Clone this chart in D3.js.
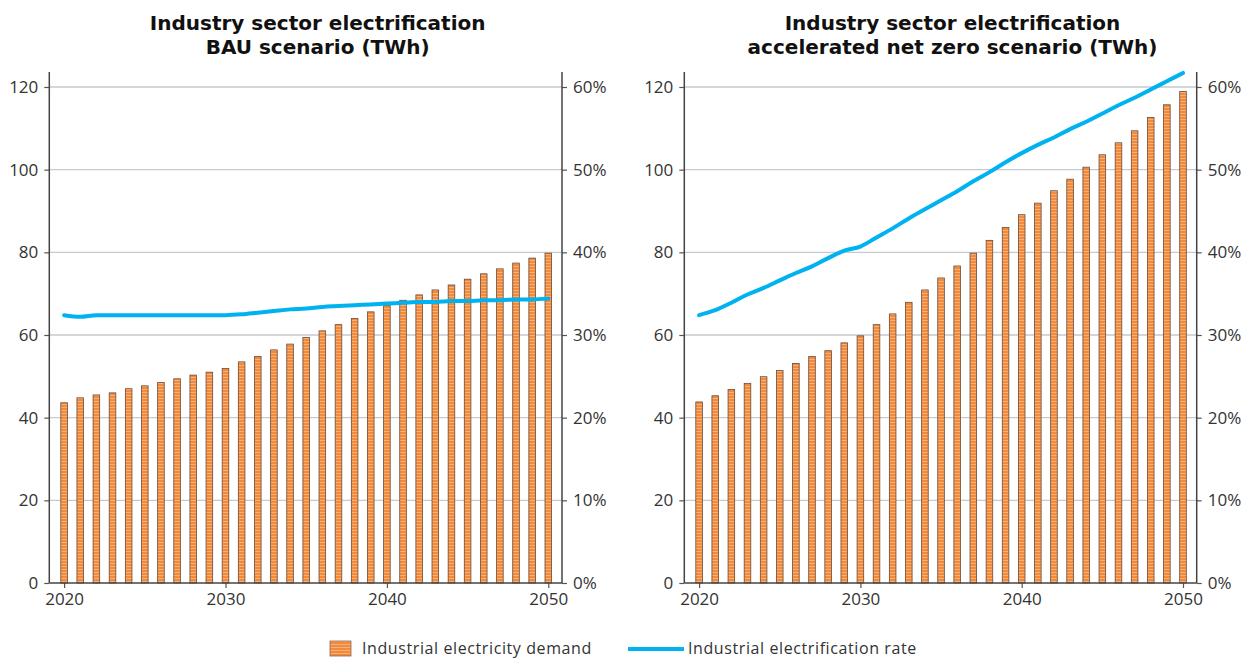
<!DOCTYPE html>
<html>
<head>
<meta charset="utf-8">
<script src="https://cdn.jsdelivr.net/npm/d3@7"></script>
<style>
  body { margin: 0; background: #fff; }
  text { font-family: "Open Sans", sans-serif; fill: #333; }
</style>
</head>
<body>
<div class="graphContainer"></div>
<script>
// width / height of the page
const w = 1244;
const h = 660;

// data
const years = d3.range(2020, 2051);

const bauDemand = [43.6, 44.8, 45.5, 46.0, 47.0, 47.7, 48.5, 49.4, 50.3, 51.0,
                   51.9, 53.5, 54.8, 56.4, 57.8, 59.4, 61.0, 62.5, 64.0, 65.6,
                   67.1, 68.4, 69.7, 70.9, 72.1, 73.5, 74.8, 76.0, 77.4, 78.6, 79.8];

const bauRate = [32.4, 32.2, 32.4, 32.4, 32.4, 32.4, 32.4, 32.4, 32.4, 32.4,
                 32.4, 32.5, 32.7, 32.9, 33.1, 33.2, 33.4, 33.5, 33.6, 33.7,
                 33.8, 33.9, 34.0, 34.0, 34.1, 34.1, 34.2, 34.2, 34.3, 34.3, 34.4];

const nzDemand = [43.8, 45.3, 46.8, 48.3, 49.9, 51.4, 53.1, 54.8, 56.2, 58.1,
                  59.8, 62.5, 65.1, 67.9, 70.9, 73.8, 76.7, 79.8, 82.9, 86.0,
                  89.1, 91.9, 94.9, 97.7, 100.6, 103.6, 106.5, 109.4, 112.6, 115.7, 118.9];

const nzRate = [32.4, 33.0, 33.9, 34.9, 35.7, 36.6, 37.5, 38.3, 39.3, 40.2,
                40.7, 41.8, 42.9, 44.1, 45.2, 46.3, 47.4, 48.6, 49.7, 50.9,
                52.0, 53.0, 53.9, 54.9, 55.8, 56.8, 57.8, 58.7, 59.7, 60.7, 61.7];

const leftTicks = [0, 20, 40, 60, 80, 100, 120];
const rightTicks = [0, 10, 20, 30, 40, 50, 60];
const yearTicks = [2020, 2030, 2040, 2050];

const titles = [["Industry sector electrification", "BAU scenario (TWh)"],
                ["Industry sector electrification", "accelerated net zero scenario (TWh)"]];

const legendLabels = ["Industrial electricity demand", "Industrial electrification rate"];

const barColor = "#f28a3a";
const lineColor = "#00b2ef";

const svg = d3.select(".graphContainer").append("svg")
    .attr("width", w)
    .attr("height", h);

// striped fill for the bars
const pat = svg.append("defs").append("pattern")
    .attr("id", "stripes")
    .attr("patternUnits", "userSpaceOnUse")
    .attr("width", 6)
    .attr("height", 3);
pat.append("rect").attr("width", 6).attr("height", 3).attr("fill", barColor);
pat.append("rect").attr("y", 2).attr("width", 6).attr("height", 1).attr("fill", "#f8b07a");

function drawPanel(left, right, title, demand, rate) {
    const top = 72, bottom = 583;

    const x = d3.scaleLinear().domain([2020, 2050]).range([left + 14.8, right - 13.7]);
    const y = d3.scaleLinear().domain([0, 120]).range([bottom, 87]);
    const y2 = d3.scaleLinear().domain([0, 60]).range([bottom, 87]);

    const g = svg.append("g");

    // gridlines
    g.selectAll(".grid")
        .data(leftTicks.slice(1))
        .enter().append("line")
        .attr("x1", left).attr("x2", right)
        .attr("y1", d => y(d)).attr("y2", d => y(d))
        .attr("stroke", "#c5cacf")
        .attr("stroke-width", 1.3);

    // bars
    g.selectAll(".bar")
        .data(demand)
        .enter().append("rect")
        .attr("x", (d, i) => x(years[i]) - 3.3)
        .attr("y", d => y(d))
        .attr("width", 6.6)
        .attr("height", d => bottom - y(d))
        .attr("fill", "url(#stripes)")
        .attr("stroke", "#6a4a36")
        .attr("stroke-width", 0.8);

    // rate line
    const line = d3.line()
        .x((d, i) => x(years[i]))
        .y(d => y2(d))
        .curve(d3.curveMonotoneX);

    g.append("path")
        .datum(rate)
        .attr("d", line)
        .attr("fill", "none")
        .attr("stroke", lineColor)
        .attr("stroke-width", 4)
        .attr("stroke-linecap", "round");

    // axes
    const yAxis = d3.axisLeft(y).tickValues(leftTicks).tickSize(5).tickPadding(6);
    const y2Axis = d3.axisRight(y2).tickValues(rightTicks).tickSize(5).tickPadding(6)
        .tickFormat(d => d + "%");
    const xAxis = d3.axisBottom(x).tickValues(yearTicks).tickSize(5).tickPadding(5)
        .tickFormat(d => String(d));

    const axes = [
        g.append("g").attr("transform", `translate(${left},0)`).call(yAxis),
        g.append("g").attr("transform", `translate(${right},0)`).call(y2Axis),
        g.append("g").attr("transform", `translate(0,${bottom})`).call(xAxis)
    ];
    axes.forEach(a => {
        a.select(".domain").remove();
        a.selectAll(".tick line").attr("stroke", "#555").attr("stroke-width", 1.2);
        a.selectAll(".tick text").style("font-size", "17px").attr("fill", "#333");
    });

    // axis lines
    g.append("line").attr("x1", left).attr("x2", left).attr("y1", top).attr("y2", bottom)
        .attr("stroke", "#444").attr("stroke-width", 1.5);
    g.append("line").attr("x1", right).attr("x2", right).attr("y1", top).attr("y2", bottom)
        .attr("stroke", "#444").attr("stroke-width", 1.5);
    g.append("line").attr("x1", left).attr("x2", right).attr("y1", bottom).attr("y2", bottom)
        .attr("stroke", "#444").attr("stroke-width", 1.5);

    // title
    g.selectAll(".title")
        .data(title)
        .enter().append("text")
        .attr("x", (left + right) / 2 + 12)
        .attr("y", (d, i) => 30 + i * 23.5)
        .attr("text-anchor", "middle")
        .style("font-family", "'DejaVu Sans', sans-serif")
        .style("font-size", "20px")
        .style("font-weight", "bold")
        .style("fill", "#111")
        .text(d => d);
}

drawPanel(49.3, 562, titles[0], bauDemand, bauRate);
drawPanel(684.3, 1196.7, titles[1], nzDemand, nzRate);

// legend
const legend = svg.append("g");
legend.append("rect")
    .attr("x", 330).attr("y", 641).attr("width", 21).attr("height", 15)
    .attr("fill", "url(#stripes)")
    .attr("stroke", "#8a6a56").attr("stroke-width", 0.8);
legend.append("text")
    .attr("x", 362).attr("y", 654)
    .style("font-size", "16px")
    .style("letter-spacing", "0.6px")
    .text(legendLabels[0]);
legend.append("line")
    .attr("x1", 628).attr("x2", 684).attr("y1", 649).attr("y2", 649)
    .attr("stroke", lineColor).attr("stroke-width", 4);
legend.append("text")
    .attr("x", 688).attr("y", 654)
    .style("font-size", "16px")
    .style("letter-spacing", "0.6px")
    .text(legendLabels[1]);
</script>
</body>
</html>
